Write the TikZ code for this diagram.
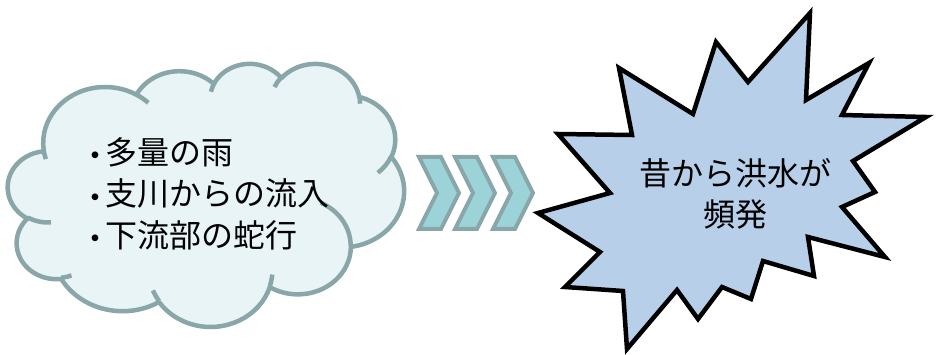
\documentclass[tikz,border=0pt]{standalone}
\usepackage{fontspec}
\newfontfamily\jp{Noto Sans CJK JP}
\definecolor{cloudline}{RGB}{137,166,168}
\definecolor{cloudfill}{RGB}{233,244,247}
\definecolor{chevfill}{RGB}{155,211,217}
\definecolor{starfill}{RGB}{184,207,234}
\newcommand\bigdot{{\fontsize{40}{40}\selectfont\raisebox{-6.5pt}{･}}}
\tikzset{
  pa/.code args={#1/#2/#3/#4}{%
    \pgfmathsetmacro\paA{atan2((#1)*sin(#3),(#2)*cos(#3))}%
    \pgfmathsetmacro\paB{atan2((#1)*sin(#3+#4),(#2)*cos(#3+#4))}%
    \pgfmathsetmacro\paD{Mod(\paB-\paA,360)}%
    \pgfmathsetmacro\paD{ifthenelse(#4<0,\paD-360,\paD)}%
    \edef\paX{\noexpand\pgfkeysalso{x radius=#1, y radius=#2, start angle=\paA, delta angle=\paD}}\paX
  },
  cloudshape/.style={draw=cloudline, fill=cloudfill, line width=4.5pt, line join=round},
  cloudinner/.style={draw=cloudline, line width=4.5pt},
  chev/.style={draw=cloudline, fill=chevfill, line width=4pt, line join=miter},
  starshape/.style={draw=black, fill=starfill, line width=4.5pt, line join=miter},
  txt/.style={font=\jp\fontsize{32}{40}\selectfont, inner sep=0pt, text=black}
}
\begin{document}
\begin{tikzpicture}[x=1pt,y=-1pt]
\useasboundingbox (0,0) rectangle (938,355);
% cloud
\begin{scope}[shift={(8,63)}, x={(0.9167pt,0pt)}, y={(0pt,-0.6088pt)}]
\path[cloudshape] (39.00,143.70)
  arc[pa=67.53/91.90/-190.4875/123.7805]
  arc[pa=53.33/72.67/-144.1024/89.9452]
  arc[pa=43.65/59.45/-145.8079/99.7230]
  arc[pa=48.57/65.95/-130.9861/117.2417]
  arc[pa=53.33/72.73/-78.7089/109.0269]
  arc[pa=67.75/92.20/-46.2673/130.2690]
  arc[pa=57.85/78.67/0.6250/114.0333]
  arc[pa=67.52/92.15/22.4516/115.1726]
  arc[pa=77.20/105.43/66.2426/75.7110]
  arc[pa=43.60/59.18/-274.9421/146.7356]
  arc[pa=43.45/59.45/-246.8285/152.5189]
  -- cycle;
\path[cloudinner]
  (46.93,261.77) arc[pa=43.45/59.45/86.7420/26.4295]
  (69.28,348.99) arc[pa=43.60/59.18/73.6105/11.4475]
  (164.78,390.90) arc[pa=67.52/92.15/137.6242/14.0811]
  (288.27,347.51) arc[pa=67.52/92.15/6.4533/15.9984]
  (341.29,229.54) arc[pa=57.85/78.67/-70.2924/70.9174]
  (417.98,153.54) arc[pa=53.33/72.73/30.3180/27.7515]
  (383.24,54.26) arc[pa=48.57/65.95/-13.7443/14.8589]
  (290.78,39.52) arc[pa=48.57/65.95/-149.1815/18.1954]
  (221.41,47.20) arc[pa=43.65/59.45/-163.4943/17.6864]
  (140.00,51.92) arc[pa=67.53/91.90/-66.7070/12.3194]
  (41.27,157.89) arc[pa=67.53/91.90/157.6544/11.8582];
\end{scope}
\node[txt, anchor=base west] (c1) at (85.5,164.5) {\bigdot 多量の雨};
\node[txt, anchor=base west] (c2) at (85.5,206) {\bigdot 支川からの流入};
\node[txt, anchor=base west] (c3) at (85.5,247.5) {\bigdot 下流部の蛇行};
% chevrons
\foreach \cx in {419,455,493}{
  \draw[chev] (\cx,157) -- ++(22,0) -- ++(18,36) -- ++(-18,36) -- ++(-22,0) -- ++(18,-36) -- cycle;
}
% star
\draw[starshape] (810,13) -- (806,100) -- (869,63) -- (842,115) -- (926,117) -- (853,161)
  -- (875,192) -- (842,207) -- (885,257) -- (808,237) -- (814,276) -- (763,261)
  -- (751,299) -- (722,287) -- (698,319) -- (677,290) -- (627,349) -- (623,291)
  -- (565,287) -- (600,252) -- (538,213) -- (610,193) -- (558,134) -- (632,135)
  -- (619,68) -- (693,114) -- (716,42) -- (748,82) -- cycle;
\node[txt, anchor=base] (s1) at (735,186) {昔から洪水が};
\node[txt, anchor=base] (s2) at (735,227) {頻発};
\end{tikzpicture}
\end{document}
